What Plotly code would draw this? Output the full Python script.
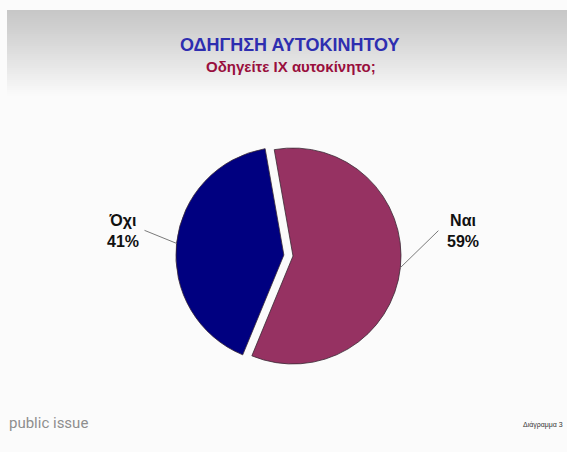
import math
import plotly.graph_objects as go

# Survey answers: "Do you drive a private car?"
labels = ["Ναι", "Όχι"]
values = [59, 41]
colors = ["#963262", "#000080"]
pulls = [0.0, 0.085]

title_text = "ΟΔΗΓΗΣΗ ΑΥΤΟΚΙΝΗΤΟΥ"
subtitle_text = "Οδηγείτε ΙΧ αυτοκίνητο;"
brand_text = "public issue"
chart_no_text = "Διάγραμμα 3"

W, H = 567, 452
ROTATION = -10

# pie placement in pixels (centre and radius of the unpulled circle)
cx, cy, r = 293, 256, 108
half = r * (1 + max(pulls))
dom_x = [(cx - half) / W, (cx + half) / W]
dom_y = [(H - cy - half) / H, (H - cy + half) / H]

fig = go.Figure(go.Pie(
    labels=labels,
    values=values,
    pull=pulls,
    sort=False,
    direction="clockwise",
    rotation=ROTATION,
    textinfo="none",
    hoverinfo="label+percent",
    marker=dict(colors=colors, line=dict(color="#3a2a35", width=0.8)),
    domain=dict(x=dom_x, y=dom_y),
    showlegend=False,
))

shapes = []

# background: pale slide with a grey band fading downwards under the title
shapes.append(dict(type="rect", xref="paper", yref="paper", x0=0, x1=1, y0=0, y1=1,
                   fillcolor="#fbfbfb", line=dict(width=0), layer="below"))
g_top, g_bot, steps = 10, 96, 43
for i in range(steps):
    y0 = g_top + (g_bot - g_top) * i / steps
    y1 = g_top + (g_bot - g_top) * (i + 1) / steps
    t = (i + 0.5) / steps
    t = t ** 1.15
    v = round(199 + (251 - 199) * t)
    shapes.append(dict(type="rect", xref="paper", yref="paper",
                       x0=7 / W, x1=1, y0=1 - y1 / H, y1=1 - y0 / H,
                       fillcolor=f"rgb({v},{v},{v})", line=dict(width=0), layer="below"))

# leader lines from each slice's mid-edge to its label
label_pos = {"Ναι": (463, 231), "Όχι": (123, 231)}
line_tail = {"Ναι": (38, -37), "Όχι": (-32, -13)}
total = sum(values)
angle = ROTATION
annotations = []
for lab, val, p in zip(labels, values, pulls):
    span = val / total * 360
    mid = math.radians(angle + span / 2)
    angle += span
    hx = cx + r * (1 + p) * math.sin(mid)
    hy = cy - r * (1 + p) * math.cos(mid)
    tx, ty = hx + line_tail[lab][0], hy + line_tail[lab][1]
    shapes.append(dict(type="line", xref="paper", yref="paper",
                       x0=hx / W, y0=1 - hy / H, x1=tx / W, y1=1 - ty / H,
                       line=dict(color="#7a7a7a", width=1)))
    lx, ly = label_pos[lab]
    annotations.append(dict(
        x=lx / W, y=1 - ly / H, xref="paper", yref="paper",
        text=f"<b>{lab}<br>{round(val / total * 100)}%</b>",
        showarrow=False, align="center", xanchor="center", yanchor="middle",
        font=dict(family="Liberation Sans, Arial, sans-serif", size=16, color="#111111"),
    ))

annotations += [
    dict(x=290 / W, y=1 - 45 / H, xref="paper", yref="paper", showarrow=False,
         text=f"<b>{title_text}</b>", xanchor="center", yanchor="middle",
         font=dict(family="Liberation Sans, Arial, sans-serif", size=18, color="#2e2eb0")),
    dict(x=291 / W, y=1 - 66 / H, xref="paper", yref="paper", showarrow=False,
         text=f"<b>{subtitle_text}</b>", xanchor="center", yanchor="middle",
         font=dict(family="Liberation Sans, Arial, sans-serif", size=15, color="#990f3d")),
    dict(x=7 / W, y=1 - 423 / H, xref="paper", yref="paper", showarrow=False,
         text=brand_text, xanchor="left", yanchor="middle",
         font=dict(family="Roboto, sans-serif", size=15, color="#8e8e8e")),
    dict(x=565 / W, y=1 - 425 / H, xref="paper", yref="paper", showarrow=False,
         text=chart_no_text, xanchor="right", yanchor="middle",
         font=dict(family="Liberation Sans, Arial, sans-serif", size=7, color="#333333")),
]

fig.update_layout(
    width=W, height=H,
    margin=dict(l=0, r=0, t=0, b=0),
    paper_bgcolor="#fbfbfb",
    plot_bgcolor="#fbfbfb",
    shapes=shapes,
    annotations=annotations,
)

fig.write_html("out.html")
